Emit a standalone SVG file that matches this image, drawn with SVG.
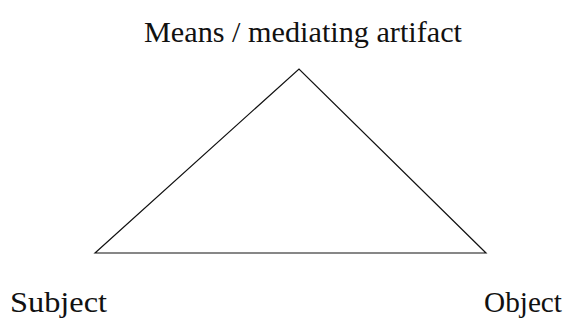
<svg xmlns="http://www.w3.org/2000/svg" width="571" height="320" viewBox="0 0 571 320">
<style>
text{font-family:"Liberation Serif",serif;font-size:29px;fill:#111}
.edge{stroke:#111;stroke-width:1.2;fill:none}
</style>
<rect width="571" height="320" fill="#fff"/>
<g id="connectors">
<path class="edge" d="M95,253 L299,69 L486,253 Z"/>
</g>
<g id="means"><text x="303" y="42" text-anchor="middle" textLength="318" lengthAdjust="spacingAndGlyphs">Means / mediating artifact</text></g>
<g id="subject"><text x="10" y="312" textLength="97" lengthAdjust="spacingAndGlyphs">Subject</text></g>
<g id="object"><text x="484" y="312" textLength="78" lengthAdjust="spacingAndGlyphs">Object</text></g>
</svg>
